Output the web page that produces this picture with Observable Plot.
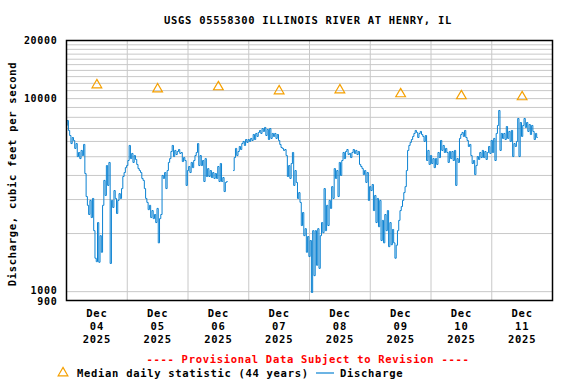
<!DOCTYPE html>
<html><head><meta charset="utf-8">
<script src="https://cdn.jsdelivr.net/npm/d3@7"></script>
<script src="https://cdn.jsdelivr.net/npm/@observablehq/plot@0.6"></script>
<style>body{margin:0;background:#fff}</style>
</head><body><div id="chart"></div>
<script>
const title = "USGS 05558300 ILLINOIS RIVER AT HENRY, IL";
const yLabel = "Discharge, cubic feet per second";
const notice = "---- Provisional Data Subject to Revision ----";
const legendMedian = "Median daily statistic (44 years)";
const legendDischarge = "Discharge";

const startTime = "2025-12-04T00:00Z";
const endTime = "2025-12-12T00:00Z";
const stepHours = 0.5;
// half-hourly discharge, cubic feet per second (null = missing record)
const dec04 = [7260,7700,6840,6440,5850,6290,6070,5520,5850,5010,5260,4890,5390,5070,5790,4090,3110,2800,2510,2970,2420,3040,2070,1490,
  1430,2280,1420,1950,1600,2800,3770,3150,4500,3550,4670,1400,2970,2730,3340,3040,2540,2970,3220,3040,3420,3950,4140,4390];
const dec05 = [4500,4780,5720,4890,5200,4670,5070,4840,4560,4340,4240,4140,3860,3770,3420,3040,2900,2660,2800,2420,2630,2390,2510,2280,
  2700,1790,2390,2510,4000,3860,4140,3420,4240,4670,4890,5320,5720,5010,5390,5130,5320,5450,5200,5260,4720,4950,4780,3550];
const dec06 = [4240,4450,4140,4670,4390,4780,5070,5260,5850,4500,5070,4500,4780,3720,4890,3950,4340,3950,4240,3900,4140,3860,4090,3860,
  4450,3720,4610,3720,3900,3300,3680,3720,null,null,null,null,4240,4950,5520,5070,5320,5650,5450,5850,6000,5720,6140,5930];
const dec07 = [6140,6000,6220,6070,6520,6140,6600,6370,6680,6840,6600,7000,6760,7090,6440,6920,6140,7000,6220,6600,6370,6600,6220,6520,
  6070,5790,5580,5520,5390,5450,5070,3950,4500,3860,4610,5260,3550,4240,3680,3040,3260,2900,2200,2570,1950,2120,1600,1930];
const dec08 = [1520,1840,990,2070,1210,2070,1370,2120,1320,1950,2280,2020,3420,2070,2800,2200,2970,2700,3500,3040,4340,3860,4240,3110,
  4670,4000,4780,5260,4890,5320,5450,5130,5200,4950,5260,5450,5200,5390,5130,5320,4560,4450,4340,4040,4240,3680,4140,2970];
const dec09 = [3500,3340,3590,2630,3150,2280,3040,2170,2970,1840,2340,1790,2510,2070,2630,1710,2280,1750,2100,1790,1490,1740,2070,2340,
  2630,2760,2970,3260,3500,4240,5390,5720,5930,6140,6370,6600,6840,6680,6290,6600,6760,6520,6370,6000,6440,4780,5390,4560];
const dec10 = [5070,4610,4890,4390,4890,4560,5260,4950,6070,5390,5720,5260,5520,5260,4670,5320,4890,5320,4780,5390,3550,4890,4670,6220,
  6520,6680,6370,6840,6290,6070,5650,5790,5070,4610,4780,4040,4500,5010,4840,5260,4950,5390,4950,5320,4840,5260,5650,5200];
const dec11 = [6070,5260,6220,4780,6600,7260,8680,5390,6600,6220,6600,6140,7170,6220,6760,6000,6840,5010,5850,5650,6000,7890,5010,7520,
  6370,7260,7890,7090,7520,6760,7340,6520,7260,6760,6140,6600,6290];
const discharge = [...dec04, ...dec05, ...dec06, ...dec07, ...dec08, ...dec09, ...dec10, ...dec11];

const medianDates = ["2025-12-04T12:00Z","2025-12-05T12:00Z","2025-12-06T12:00Z","2025-12-07T12:00Z","2025-12-08T12:00Z","2025-12-09T12:00Z","2025-12-10T12:00Z","2025-12-11T12:00Z"];
const medianValues = [11760, 11210, 11490, 10950, 11080, 10570, 10320, 10200];

const dayTicks = ["2025-12-04T12:00Z","2025-12-05T12:00Z","2025-12-06T12:00Z","2025-12-07T12:00Z","2025-12-08T12:00Z","2025-12-09T12:00Z","2025-12-10T12:00Z","2025-12-11T12:00Z"];
const dayLabels = ["Dec\n04\n2025","Dec\n05\n2025","Dec\n06\n2025","Dec\n07\n2025","Dec\n08\n2025","Dec\n09\n2025","Dec\n10\n2025","Dec\n11\n2025"];
const dayGrid = ["2025-12-05T00:00Z","2025-12-06T00:00Z","2025-12-07T00:00Z","2025-12-08T00:00Z","2025-12-09T00:00Z","2025-12-10T00:00Z","2025-12-11T00:00Z"];

const yTicks = [900, 1000, 10000, 20000];
const yTickNudge = [1.5, -0.5, 0, 0];
const yGrid = [1000, 2000, 3000, 4000, 5000, 6000, 7000, 8000, 9000, 10000, 11000, 12000, 13000, 14000, 15000, 16000, 17000, 18000, 19000, 20000];

const blue = "#0b82d2";
const orange = "#f5a000";
const font = "DejaVu Sans Mono";

const t0 = new Date(startTime).getTime();
const series = discharge.map((v, i) => ({time: new Date(t0 + i * stepHours * 3600e3), value: v}));
const medians = medianDates.map((d, i) => ({date: new Date(d), value: medianValues[i]}));
const tickDates = dayTicks.map(d => new Date(d));
const labelOf = new Map(tickDates.map((d, i) => [+d, dayLabels[i]]));

const yTickMarks = yTicks.map((v, i) => Plot.text([v], {y: d => d, text: d => String(d), frameAnchor: "left", textAnchor: "end", dx: -9, dy: yTickNudge[i], fontSize: 10, fill: "black"}));

const chart = Plot.plot({
  width: 576, height: 384,
  marginLeft: 66, marginRight: 24, marginTop: 40, marginBottom: 84,
  style: {fontFamily: font, fontSize: "10.5px", fontWeight: "bold", background: "white", color: "black", letterSpacing: "0.7px"},
  x: {type: "utc", domain: [new Date(startTime), new Date(endTime)]},
  y: {type: "log", domain: [900, 20000], axis: null},
  marks: [
    Plot.ruleY(yGrid, {stroke: "#c8c8c8", strokeWidth: 1}),
    Plot.ruleX(dayGrid.map(d => new Date(d)), {stroke: "#c8c8c8", strokeWidth: 1}),
    Plot.line(series, {x: "time", y: "value", curve: "step", stroke: blue, strokeWidth: 1}),
    Plot.dot(medians, {x: "date", y: "value", symbol: "triangle", r: 3.6, stroke: orange, strokeWidth: 1.2, fill: "none"}),
    Plot.frame({stroke: "black", strokeWidth: 1.5}),
    ...yTickMarks,
    Plot.axisX({ticks: tickDates, tickSize: 0, tickPadding: 8, tickFormat: d => labelOf.get(+d), label: null, lineHeight: 1.2, fontSize: 10.5})
  ]
});
document.getElementById("chart").append(chart);

const svg = d3.select(chart);
const txt = (x, y, s, opts = {}) => svg.append("text")
  .attr("x", x).attr("y", y)
  .attr("text-anchor", opts.anchor || "middle")
  .attr("dominant-baseline", "central")
  .attr("fill", opts.fill || "black")
  .attr("font-family", font).attr("font-weight", "bold").attr("font-size", "10.5px")
  .style("letter-spacing", "0.7px")
  .attr("transform", opts.transform || null)
  .text(s);

txt(308, 20, title);
txt(0, 0, yLabel, {transform: "translate(12,174) rotate(-90)"});
txt(308, 359, notice, {fill: "#ff0000"});
// legend
svg.append("path")
  .attr("d", d3.symbol(d3.symbolTriangle, Math.PI * 3.6 * 3.6)())
  .attr("transform", "translate(63,373)")
  .attr("fill", "none").attr("stroke", orange).attr("stroke-width", 1.2);
txt(77, 373, legendMedian, {anchor: "start"});
svg.append("line").attr("x1", 316).attr("x2", 334).attr("y1", 373).attr("y2", 373)
  .attr("stroke", blue).attr("stroke-width", 1.2);
txt(340, 373, legendDischarge, {anchor: "start"});
</script></body></html>
